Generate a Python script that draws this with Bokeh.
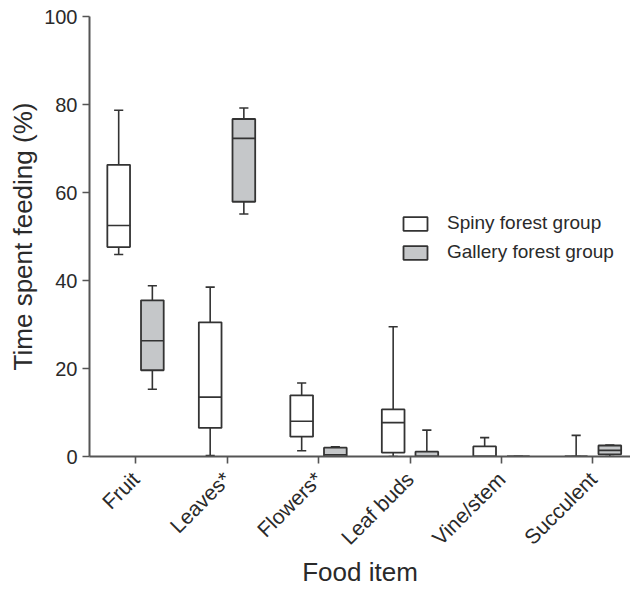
from bokeh.plotting import figure
from bokeh.models import Range1d, FixedTicker, ColumnDataSource, Legend, LegendItem
from bokeh.embed import file_html
from bokeh.resources import INLINE
import math

categories = ["Fruit", "Leaves*", "Flowers*", "Leaf buds", "Vine/stem", "Succulent"]

# Spiny forest group: min, q1, median, q3, max
spiny_min = [45.9, 0.2, 1.3, 0.0, 0.0, 0.0]
spiny_q1 = [47.6, 6.5, 4.5, 0.9, 0.0, 0.0]
spiny_med = [52.5, 13.5, 8.0, 7.7, 0.0, 0.0]
spiny_q3 = [66.3, 30.5, 13.9, 10.7, 2.3, 0.0]
spiny_max = [78.7, 38.5, 16.7, 29.5, 4.3, 4.8]

# Gallery forest group
gal_min = [15.3, 55.1, 0.0, 0.0, 0.0, 0.0]
gal_q1 = [19.6, 57.9, 0.0, 0.0, 0.0, 0.5]
gal_med = [26.3, 72.3, 0.4, 0.0, 0.0, 1.4]
gal_q3 = [35.5, 76.7, 2.0, 1.1, 0.0, 2.5]
gal_max = [38.8, 79.2, 2.2, 6.0, 0.0, 2.6]

y_ticks = [0, 20, 40, 60, 80, 100]

FONT = "Liberation Sans"
TXT = "#2a2a2a"
LINE = "#333333"
GRAY = "#c5c7c9"

p = figure(width=630, height=589, output_backend="svg", toolbar_location=None,
           x_range=Range1d(-0.503, 5.41), y_range=Range1d(0, 100),
           min_border_left=89, min_border_right=0, min_border_top=16, min_border_bottom=133)
p.outline_line_color = None
p.grid.visible = False
p.background_fill_color = None
p.border_fill_color = "white"

off = 0.184
bw = 0.248
cap = 0.1

def draw(idx_off, mn, q1, md, q3, mx, fill):
    xs = [i + idx_off for i in range(len(categories))]
    src = ColumnDataSource(dict(x=xs, mn=mn, q1=q1, md=md, q3=q3, mx=mx,
                                l=[x - bw / 2 for x in xs], r=[x + bw / 2 for x in xs],
                                cl=[x - cap / 2 for x in xs], cr=[x + cap / 2 for x in xs]))
    p.segment(x0="x", y0="q3", x1="x", y1="mx", source=src, line_color=LINE, line_width=1.6)
    p.segment(x0="x", y0="mn", x1="x", y1="q1", source=src, line_color=LINE, line_width=1.6)
    p.segment(x0="cl", y0="mx", x1="cr", y1="mx", source=src, line_color=LINE, line_width=1.6)
    p.segment(x0="cl", y0="mn", x1="cr", y1="mn", source=src, line_color=LINE, line_width=1.6)
    r = p.quad(left="l", right="r", bottom="q1", top="q3", source=src,
               fill_color=fill, line_color=LINE, line_width=1.8)
    p.segment(x0="l", y0="md", x1="r", y1="md", source=src, line_color=LINE, line_width=1.6)
    return r

r1 = draw(-off, spiny_min, spiny_q1, spiny_med, spiny_q3, spiny_max, "white")
r2 = draw(off, gal_min, gal_q1, gal_med, gal_q3, gal_max, GRAY)

legend = Legend(items=[LegendItem(label="Spiny forest group", renderers=[r1]),
                       LegendItem(label="Gallery forest group", renderers=[r2])],
                location=(311, 193), border_line_color=None, background_fill_alpha=0,
                label_text_font=FONT, label_text_font_size="19px", label_text_color=TXT,
                glyph_width=30, glyph_height=17, label_height=17, spacing=7, label_standoff=17,
                padding=5, margin=0)
p.add_layout(legend, "center")

p.xaxis.ticker = FixedTicker(ticks=list(range(len(categories))))
p.xaxis.major_label_overrides = {i: c for i, c in enumerate(categories)}
p.xaxis.major_label_orientation = math.pi / 4
p.yaxis.ticker = FixedTicker(ticks=y_ticks)

for ax in (p.xaxis, p.yaxis):
    ax.axis_line_color = "#555555"
    ax.axis_line_width = 2
    ax.major_tick_line_color = "#555555"
    ax.major_tick_line_width = 1.6
    ax.major_tick_out = 7
    ax.major_tick_in = 0
    ax.minor_tick_line_color = None
    ax.major_label_text_font = FONT
    ax.major_label_text_font_size = "20px"
    ax.major_label_text_color = TXT
    ax.axis_label_text_font = FONT
    ax.axis_label_text_font_size = "26px"
    ax.axis_label_text_font_style = "normal"
    ax.axis_label_text_color = TXT

p.xaxis.major_label_text_font_size = "21px"
p.xaxis.axis_label = "Food item"
p.yaxis.axis_label = "Time spent feeding (%)"
p.yaxis.major_label_standoff = 5
p.xaxis.major_label_standoff = 12
p.xaxis.axis_label_standoff = -4
p.yaxis.axis_label_standoff = 3

open("out.html", "w").write(file_html(p, INLINE))
